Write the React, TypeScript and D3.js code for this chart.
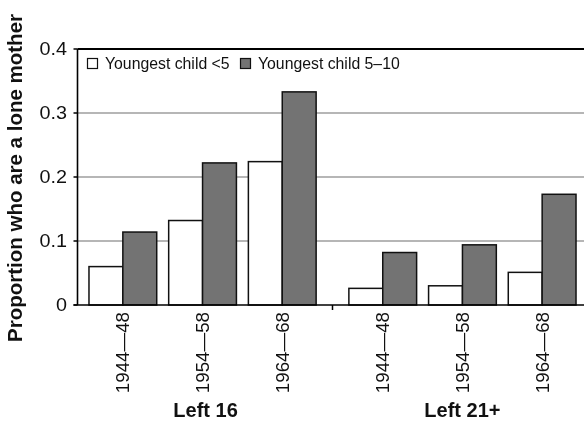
import React from "react";
import * as d3 from "d3";

// Education-leaving groups and birth cohorts
const groups = ["Left 16", "Left 21+"];
const cohorts = ["1944—48", "1954—58", "1964—68"];
const seriesNames = ["Youngest child <5", "Youngest child 5–10"];

// Proportion who are a lone mother, ordered Left 16 cohorts then Left 21+ cohorts
const youngestUnder5 = [0.06, 0.132, 0.224, 0.026, 0.03, 0.051];
const youngest5to10 = [0.114, 0.222, 0.333, 0.082, 0.094, 0.173];

const yTicks = [0, 0.1, 0.2, 0.3, 0.4];

const W = 584;
const H = 421;
const AXIS_X = 77.5;
const FILLS = ["#ffffff", "#737373"];
const FONT = "'Liberation Sans', Arial, Helvetica, sans-serif";

export default function App() {
  const y = d3.scaleLinear().domain([0, 0.4]).range([305, 49]);
  const x0 = d3.scaleBand<string>().domain(groups).range([83, 582]).paddingInner(0.08);
  const x1 = d3
    .scaleBand<string>()
    .domain(cohorts)
    .range([0, x0.bandwidth()])
    .paddingInner(0.15)
    .paddingOuter(0.075);
  const x2 = d3.scaleBand<number>().domain([0, 1]).range([0, x1.bandwidth()]);

  const seriesValues = [youngestUnder5, youngest5to10];

  const rows = groups.flatMap((g, gi) =>
    cohorts.map((c, ci) => ({
      group: g,
      cohort: c,
      values: seriesValues.map((s) => s[gi * cohorts.length + ci]),
    }))
  );

  const xRight = W + 20;
  const groupBoundary = (x0(groups[0])! + x0.bandwidth() + x0(groups[1])!) / 2;

  return (
    <svg
      width={W}
      height={H}
      style={{ position: "absolute", left: 0, top: 0, background: "#fff", willChange: "transform" }}
      fontFamily={FONT}
    >
      {/* gridlines */}
      {yTicks
        .filter((t) => t > 0 && t < 0.4)
        .map((t) => (
          <line
            key={`g${t}`}
            x1={AXIS_X}
            x2={xRight}
            y1={y(t)}
            y2={y(t)}
            stroke="#6e6e6e"
            strokeWidth={1.2}
          />
        ))}
      {/* top border */}
      <line x1={AXIS_X} x2={xRight} y1={y(0.4)} y2={y(0.4)} stroke="#000" strokeWidth={2} />

      {/* bars */}
      {rows.map((r) => {
        const gx = x0(r.group)! + x1(r.cohort)!;
        return (
          <g key={`${r.group}-${r.cohort}`}>
            {r.values.map((v, si) => (
              <rect
                key={si}
                x={gx + x2(si)!}
                y={y(v)}
                width={x2.bandwidth()}
                height={y(0) - y(v)}
                fill={FILLS[si]}
                stroke="#111"
                strokeWidth={1.5}
              />
            ))}
          </g>
        );
      })}

      {/* axes */}
      <line x1={AXIS_X} x2={AXIS_X} y1={y(0.4)} y2={y(0)} stroke="#000" strokeWidth={1.6} />
      <line x1={AXIS_X - 4} x2={xRight} y1={y(0)} y2={y(0)} stroke="#000" strokeWidth={1.6} />
      {yTicks.map((t) => (
        <g key={`t${t}`}>
          <line x1={AXIS_X - 4} x2={AXIS_X} y1={y(t)} y2={y(t)} stroke="#000" strokeWidth={1.5} />
          <text
            transform={`translate(67,${y(t)}) scale(1.1,1)`}
            dy="0.36em"
            textAnchor="end"
            fontSize={18}
            fill="#111"
          >
            {t === 0 ? "0" : d3.format(".1f")(t)}
          </text>
        </g>
      ))}
      <line
        x1={groupBoundary}
        x2={groupBoundary}
        y1={y(0)}
        y2={y(0) + 5}
        stroke="#000"
        strokeWidth={1.5}
      />

      {/* cohort labels */}
      {rows.map((r) => {
        const cx = x0(r.group)! + x1(r.cohort)! + x1.bandwidth() / 2;
        return (
          <text
            key={`l${r.group}-${r.cohort}`}
            transform={`translate(${cx},${y(0) + 7}) rotate(-90) scale(1.04,1)`}
            textAnchor="end"
            dy="0.36em"
            fontSize={18}
            fill="#111"
          >
            {r.cohort}
          </text>
        );
      })}

      {/* group labels */}
      {groups.map((g) => (
        <text
          key={g}
          x={x0(g)! + x0.bandwidth() / 2 + (g === groups[0] ? 3 : 0)}
          y={417}
          textAnchor="middle"
          fontSize={20}
          fontWeight="bold"
          fill="#111"
        >
          {g}
        </text>
      ))}

      {/* y axis title */}
      <text
        transform={`translate(22,178) rotate(-90)`}
        textAnchor="middle"
        fontSize={20.5}
        fontWeight="bold"
        fill="#111"
      >
        Proportion who are a lone mother
      </text>

      {/* legend */}
      <g>
        <rect x={87.5} y={58.5} width={10} height={10} fill={FILLS[0]} stroke="#111" strokeWidth={1.2} />
        <text x={105} y={68.5} fontSize={15.8} fill="#111">
          {seriesNames[0]}
        </text>
        <rect x={240.5} y={58.5} width={10} height={10} fill={FILLS[1]} stroke="#111" strokeWidth={1.2} />
        <text x={258} y={68.5} fontSize={15.8} fill="#111">
          {seriesNames[1]}
        </text>
      </g>
    </svg>
  );
}
